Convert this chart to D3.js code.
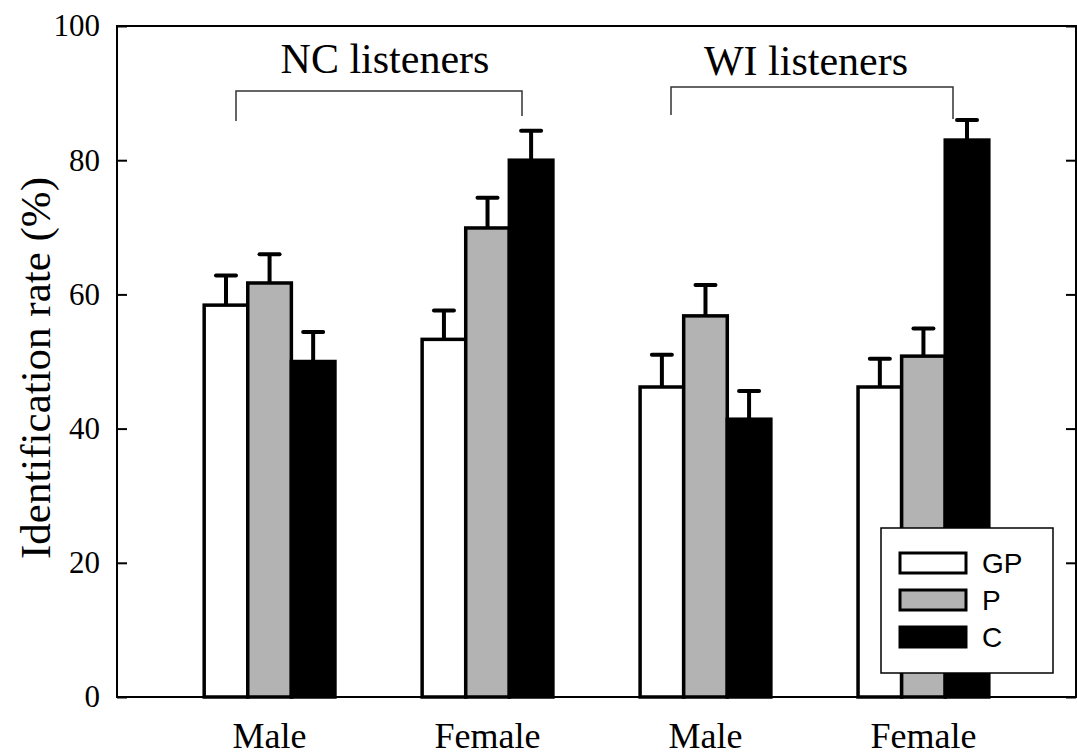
<!DOCTYPE html>
<html>
<head>
<meta charset="utf-8">
<script src="https://cdn.jsdelivr.net/npm/d3@7"></script>
<style>
  body { margin: 0; background: #fff; }
  svg { display: block; }
</style>
</head>
<body>
<svg id="chart"></svg>
<script>
const width = 1077;
const height = 756;

// data
const groups = ["Male", "Female", "Male", "Female"];
const series = ["GP", "P", "C"];
const gpValues = [58.4, 53.3, 46.2, 46.2];
const pValues = [61.7, 69.9, 56.8, 50.8];
const cValues = [50.0, 80.0, 41.4, 83.0];
const gpErrors = [4.4, 4.3, 4.8, 4.2];
const pErrors = [4.3, 4.5, 4.6, 4.1];
const cErrors = [4.4, 4.4, 4.2, 3.0];
const yTicks = [0, 20, 40, 60, 80, 100];
const listenerGroups = ["NC listeners", "WI listeners"];

const fills = { GP: "#ffffff", P: "#b3b3b3", C: "#000000" };
const valuesBySeries = { GP: gpValues, P: pValues, C: cValues };
const errorsBySeries = { GP: gpErrors, P: pErrors, C: cErrors };

const svg = d3.select("#chart")
  .attr("width", width)
  .attr("height", height);

const plot = { left: 117, right: 1076, top: 26, bottom: 697 };

// groups sit at 1..4 on a linear scale
const x = d3.scaleLinear()
  .domain([0.3, 4.7])
  .range([plot.left, plot.right]);

const y = d3.scaleLinear()
  .domain([0, 100])
  .range([plot.bottom, plot.top]);

const barW = 0.2;
const offset = { GP: -0.2, P: 0, C: 0.2 };

const bars = [];
series.forEach(s => {
  groups.forEach((g, i) => {
    bars.push({ series: s, pos: i + 1, value: valuesBySeries[s][i], err: errorsBySeries[s][i] });
  });
});

// error bars (upper only) drawn under the bar outlines
const err = svg.append("g")
  .attr("stroke", "#000")
  .attr("stroke-width", 4);

err.selectAll("line.stem")
  .data(bars)
  .join("line")
  .attr("class", "stem")
  .attr("x1", d => x(d.pos + offset[d.series]))
  .attr("x2", d => x(d.pos + offset[d.series]))
  .attr("y1", d => y(d.value))
  .attr("y2", d => y(d.value + d.err));

err.selectAll("line.cap")
  .data(bars)
  .join("line")
  .attr("class", "cap")
  .attr("stroke-linecap", "round")
  .attr("x1", d => x(d.pos + offset[d.series]) - 10)
  .attr("x2", d => x(d.pos + offset[d.series]) + 10)
  .attr("y1", d => y(d.value + d.err))
  .attr("y2", d => y(d.value + d.err));

svg.append("g")
  .selectAll("rect")
  .data(bars)
  .join("rect")
  .attr("x", d => x(d.pos + offset[d.series] - barW / 2))
  .attr("width", d => x(barW) - x(0))
  .attr("y", d => y(d.value))
  .attr("height", d => y(0) - y(d.value))
  .attr("fill", d => fills[d.series])
  .attr("stroke", "#000")
  .attr("stroke-width", 3.5);

// frame
svg.append("rect")
  .attr("x", plot.left)
  .attr("y", plot.top)
  .attr("width", plot.right - plot.left)
  .attr("height", plot.bottom - plot.top)
  .attr("fill", "none")
  .attr("stroke", "#000")
  .attr("stroke-width", 2);

const yAxis = d3.axisLeft(y)
  .tickValues(yTicks)
  .tickSize(-10)
  .tickPadding(17);

svg.append("g")
  .attr("transform", `translate(${plot.left},0)`)
  .call(yAxis)
  .call(g => g.select(".domain").remove())
  .call(g => g.selectAll("line").attr("stroke-width", 2))
  .call(g => g.selectAll("text")
    .attr("font-family", "Liberation Serif, Times New Roman, serif")
    .attr("font-size", 31)
    .attr("fill", "#000"));

svg.append("g")
  .attr("transform", `translate(${plot.right},0)`)
  .call(d3.axisRight(y).tickValues(yTicks).tickSize(-10).tickFormat(""))
  .call(g => g.select(".domain").remove())
  .call(g => g.selectAll("line").attr("stroke-width", 2));

// category labels
svg.append("g")
  .selectAll("text")
  .data(groups)
  .join("text")
  .attr("x", (d, i) => x(i + 1))
  .attr("y", 748)
  .attr("text-anchor", "middle")
  .attr("font-family", "Liberation Serif, Times New Roman, serif")
  .attr("font-size", 36)
  .text(d => d);

// y title
svg.append("text")
  .attr("transform", "translate(50,368) rotate(-90)")
  .attr("text-anchor", "middle")
  .attr("font-family", "Liberation Serif, Times New Roman, serif")
  .attr("font-size", 43)
  .text("Identification rate (%)");

// brackets above the listener groups
const brackets = [
  { label: listenerGroups[0], x0: 236, x1: 522, yb: 91, l: 121, r: 116, tx: 385, ty: 73 },
  { label: listenerGroups[1], x0: 671, x1: 953, yb: 87, l: 115, r: 119, tx: 806, ty: 75 }
];

brackets.forEach(b => {
  svg.append("path")
    .attr("d", `M${b.x0},${b.l}V${b.yb}H${b.x1}V${b.r}`)
    .attr("fill", "none")
    .attr("stroke", "#333")
    .attr("stroke-width", 1.5);
  svg.append("text")
    .attr("x", b.tx)
    .attr("y", b.ty)
    .attr("text-anchor", "middle")
    .attr("font-family", "Liberation Serif, Times New Roman, serif")
    .attr("font-size", 42)
    .text(b.label);
});

// legend
const legend = svg.append("g");
legend.append("rect")
  .attr("x", 881)
  .attr("y", 528)
  .attr("width", 172)
  .attr("height", 145)
  .attr("fill", "#fff")
  .attr("stroke", "#000")
  .attr("stroke-width", 1.5);

const item = legend.selectAll("g.item")
  .data(series)
  .join("g")
  .attr("class", "item")
  .attr("transform", (d, i) => `translate(0,${553 + i * 37})`);

item.append("rect")
  .attr("x", 900)
  .attr("y", 0)
  .attr("width", 66)
  .attr("height", 20)
  .attr("fill", d => fills[d])
  .attr("stroke", "#000")
  .attr("stroke-width", 3);

item.append("text")
  .attr("x", 982)
  .attr("y", 20)
  .attr("font-family", "Liberation Sans, Arial, sans-serif")
  .attr("font-size", 28)
  .text(d => d);
</script>
</body>
</html>
